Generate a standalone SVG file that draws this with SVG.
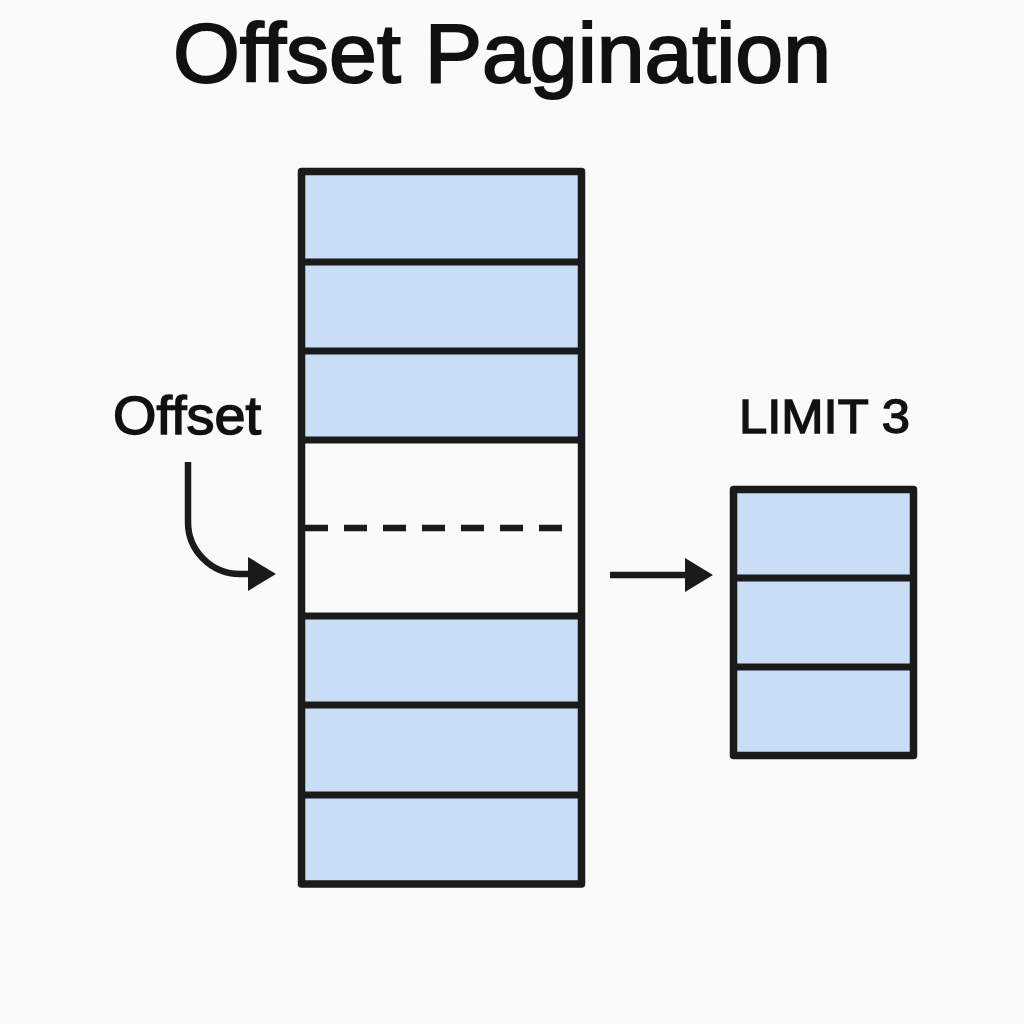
<svg xmlns="http://www.w3.org/2000/svg" width="1024" height="1024" viewBox="0 0 1024 1024">
<style>
.bg{fill:#fafafa}
.row{fill:#c9ddf6;stroke:none}
.empty{fill:#fafafa;stroke:none}
.frame{fill:none;stroke:#1a1a1a;stroke-width:7.5;stroke-linejoin:round}
.div{stroke:#1a1a1a;stroke-width:7}
.dash{stroke:#1a1a1a;stroke-width:6.5;stroke-dasharray:23 16}
.conn{fill:none;stroke:#1a1a1a;stroke-width:6.5}
.t{font-family:"Liberation Sans",Arial,sans-serif;fill:#111;stroke:#111}
</style>
<defs>
<marker id="ah" viewBox="0 0 28 34" refX="2" refY="17" markerWidth="28" markerHeight="34" markerUnits="userSpaceOnUse" orient="auto">
<path d="M0,0 L28,17 L0,34 z" fill="#1a1a1a"/>
</marker>
</defs>
<rect class="bg" x="0" y="0" width="1024" height="1024"/>
<text id="title" class="t" x="173" y="82" font-size="84" stroke-width="2" textLength="658" lengthAdjust="spacingAndGlyphs">Offset Pagination</text>
<g id="table">
<rect class="row" x="302" y="172" width="280" height="90"/>
<rect class="row" x="302" y="262" width="280" height="89"/>
<rect class="row" x="302" y="351" width="280" height="89"/>
<rect class="empty" x="302" y="440" width="280" height="176"/>
<rect class="row" x="302" y="616" width="280" height="89"/>
<rect class="row" x="302" y="705" width="280" height="90"/>
<rect class="row" x="302" y="795" width="280" height="89"/>
<line class="div" x1="302" y1="262" x2="582" y2="262"/>
<line class="div" x1="302" y1="351" x2="582" y2="351"/>
<line class="div" x1="302" y1="440" x2="582" y2="440"/>
<line class="div" x1="302" y1="616" x2="582" y2="616"/>
<line class="div" x1="302" y1="705" x2="582" y2="705"/>
<line class="div" x1="302" y1="795" x2="582" y2="795"/>
<line class="dash" x1="305" y1="528" x2="566" y2="528"/>
<rect class="frame" x="301.5" y="171.5" width="280" height="712.5"/>
</g>
<g id="offset-label">
<text class="t" x="113" y="434" font-size="53" stroke-width="1.5" textLength="148" lengthAdjust="spacingAndGlyphs">Offset</text>
</g>
<g id="limit-label">
<text class="t" x="739" y="433" font-size="48" stroke-width="1.4" textLength="171" lengthAdjust="spacingAndGlyphs">LIMIT 3</text>
</g>
<g id="result">
<rect class="row" x="733" y="489" width="181" height="89"/>
<rect class="row" x="733" y="578" width="181" height="89"/>
<rect class="row" x="733" y="667" width="181" height="89"/>
<line class="div" x1="733" y1="578" x2="914" y2="578"/>
<line class="div" x1="733" y1="667" x2="914" y2="667"/>
<rect class="frame" x="733.5" y="489.5" width="180" height="266"/>
</g>
<g id="connectors">
<path class="conn" d="M188,462 V522 A52,52 0 0 0 240,574 H250" marker-end="url(#ah)"/>
<path class="conn" d="M610,575 H687" marker-end="url(#ah)"/>
</g>
</svg>
